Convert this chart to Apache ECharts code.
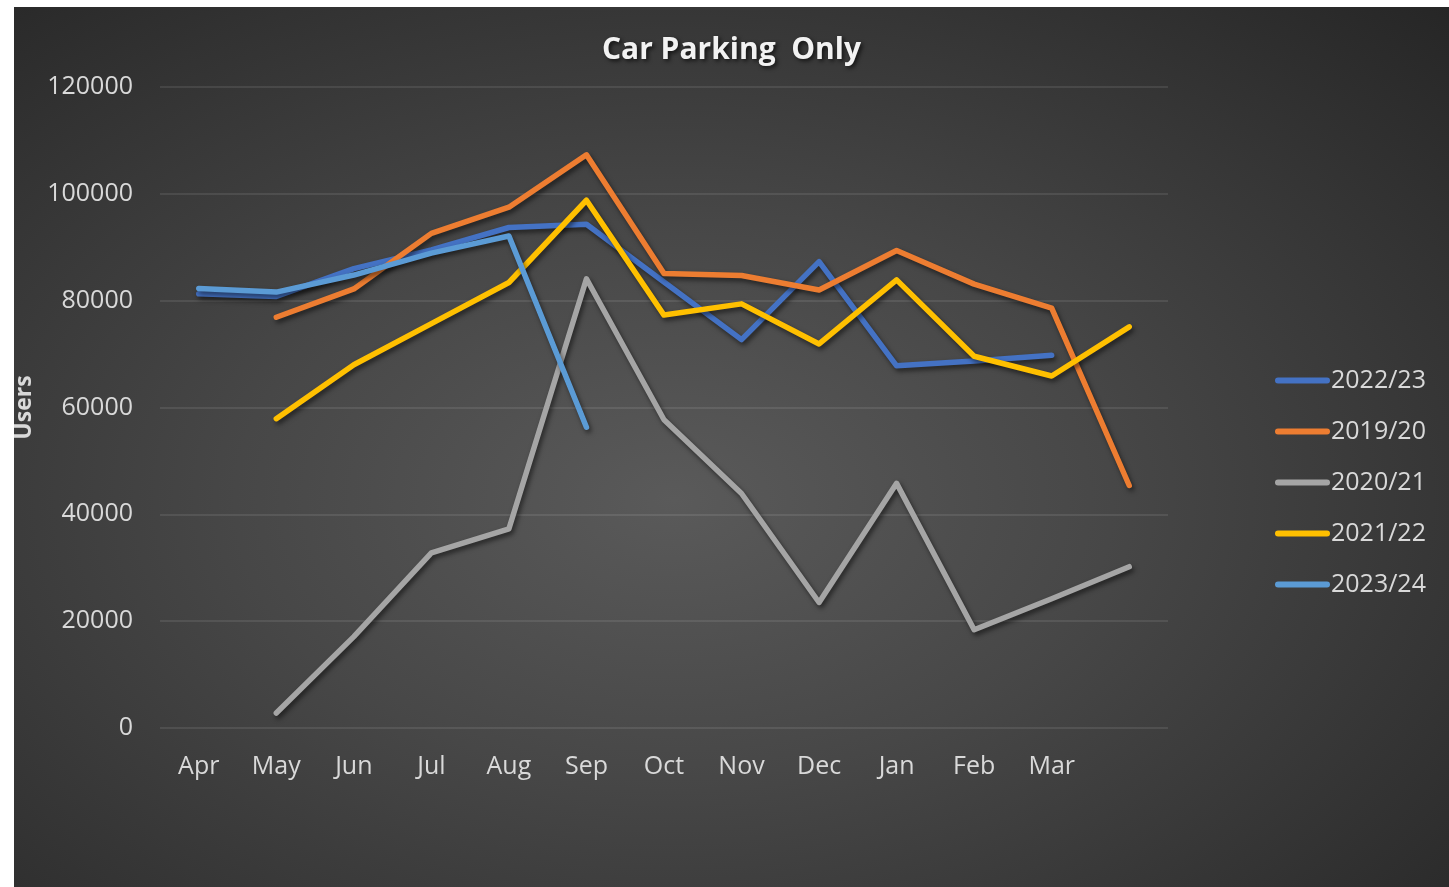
<!DOCTYPE html>
<html>
<head>
<meta charset="utf-8">
<script src="https://cdn.jsdelivr.net/npm/echarts@6/dist/echarts.min.js"></script>
<style>
  html, body { margin: 0; padding: 0; background: #ffffff; width: 1449px; height: 887px; overflow: hidden; }
  #c { position: absolute; left: 14px; top: 7px; width: 1435px; height: 880px;
       background: radial-gradient(ellipse farthest-corner at 46% 56%, #5a5a5a 0%, #474747 40%, #262626 100%); }
</style>
</head>
<body>
<div id="c"></div>
<script>
const months = ['Apr','May','Jun','Jul','Aug','Sep','Oct','Nov','Dec','Jan','Feb','Mar',''];
const yTicks = { min: 0, max: 120000, step: 20000 };

const s2022_23 = [81300, 80800, 86000, 89500, 93700, 94300, 83500, 72700, 87300, 67800, 68700, 69800, null];
const s2019_20 = [null, 76900, 82200, 92600, 97500, 107300, 85100, 84700, 82000, 89400, 83100, 78600, 45400];
const s2020_21 = [null, 2800, 17100, 32800, 37300, 84100, 57700, 43900, 23500, 45800, 18400, 24200, 30200];
const s2021_22 = [null, 57900, 68000, 75700, 83400, 98800, 77300, 79400, 71900, 83900, 69600, 65900, 75100];
const s2023_24 = [82300, 81600, 84800, 88900, 92100, 56300, null, null, null, null, null, null, null];

const seriesNames = ['2022/23', '2019/20', '2020/21', '2021/22', '2023/24'];
const seriesData = [s2022_23, s2019_20, s2020_21, s2021_22, s2023_24];
const colors = ['#4472C4', '#ED7D31', '#A5A5A5', '#FFC000', '#5B9BD5'];

const FONT = '"Open Sans", "Noto Sans", sans-serif';
const chart = echarts.init(document.getElementById('c'), null, { renderer: 'canvas' });

chart.setOption({
  animation: false,
  backgroundColor: 'transparent',
  color: colors,
  title: {
    text: 'Car Parking  Only',
    left: 'center',
    top: 23,
    textStyle: {
      fontFamily: FONT, fontSize: 30, fontWeight: 'bold', color: '#f2f2f2',
      textShadowColor: 'rgba(0,0,0,0.7)', textShadowBlur: 4, textShadowOffsetX: 2, textShadowOffsetY: 2
    }
  },
  legend: {
    orient: 'vertical',
    left: 1256,
    top: 356,
    itemWidth: 55,
    itemHeight: 6,
    itemGap: 26,
    icon: 'path://M3,0H52A3,3,0,0,1,52,6H3A3,3,0,0,1,3,0Z',
    textStyle: { fontFamily: FONT, fontSize: 25, color: '#d9d9d9', padding: [0,0,0,-4] },
    data: seriesNames
  },
  grid: { left: 146, top: 80, width: 1008, height: 641, containLabel: false, outerBoundsMode: 'none' },
  xAxis: {
    type: 'category',
    data: months,
    boundaryGap: true,
    axisLine: { show: false },
    axisTick: { show: false },
    axisLabel: { interval: 0, fontFamily: FONT, fontSize: 25, color: '#d9d9d9', margin: 26 }
  },
  yAxis: {
    type: 'value',
    min: yTicks.min, max: yTicks.max, interval: yTicks.step,
    name: 'Users',
    nameLocation: 'middle',
    nameGap: 119,
    nameTextStyle: { fontFamily: FONT, fontSize: 23, fontWeight: 'bold', color: '#d9d9d9' },
    axisLine: { show: false },
    axisTick: { show: false },
    axisLabel: { fontFamily: FONT, fontSize: 25, color: '#d9d9d9', margin: 27, padding: [4, 0, 0, 0], formatter: v => String(v) },
    splitLine: { lineStyle: { color: 'rgba(255,255,255,0.12)', width: 1.5 } }
  },
  series: seriesNames.map((name, i) => ({
    name: name,
    type: 'line',
    data: seriesData[i],
    symbol: 'none',
    showSymbol: false,
    lineStyle: {
      width: 5.5, color: colors[i], cap: 'round', join: 'round',
      shadowColor: 'rgba(0,0,0,0.55)', shadowBlur: 5, shadowOffsetX: 2, shadowOffsetY: 3
    },
    emphasis: { disabled: true }
  }))
});
</script>
</body>
</html>
